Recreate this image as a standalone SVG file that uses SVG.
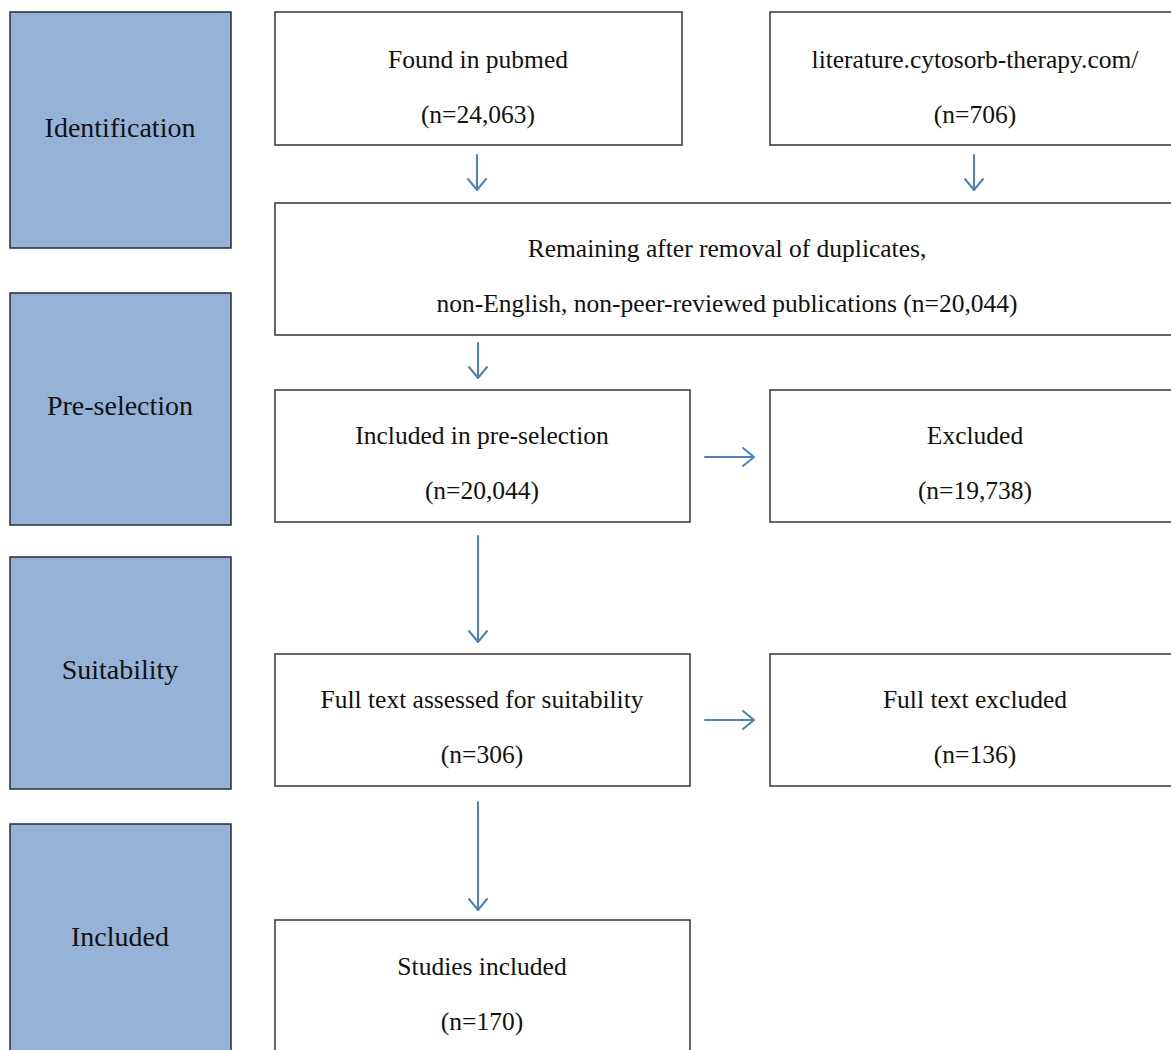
<svg xmlns="http://www.w3.org/2000/svg" width="1171" height="1050" viewBox="0 0 1171 1050">
<defs>
<style>
.stage{fill:#95b3d7;stroke:#2b2b2b;stroke-width:1.5}
.box{fill:#ffffff;stroke:#333333;stroke-width:1.5}
.t{font-family:"Liberation Serif","Times New Roman",serif;font-size:25.5px;fill:#111;text-anchor:middle}
.s{font-family:"Liberation Serif","Times New Roman",serif;font-size:28px;fill:#111;text-anchor:middle}
.c{stroke:#4f81bd;stroke-width:2;fill:none;stroke-linecap:round;stroke-linejoin:round}
</style>
</defs>
<rect width="1171" height="1050" fill="#ffffff"/>
<g id="stage-identification"><rect class="stage" x="10" y="12" width="221" height="236"/><text class="s" x="120" y="137">Identification</text></g>
<g id="stage-preselection"><rect class="stage" x="10" y="293" width="221" height="232"/><text class="s" x="120" y="415">Pre-selection</text></g>
<g id="stage-suitability"><rect class="stage" x="10" y="557" width="221" height="232"/><text class="s" x="120" y="679">Suitability</text></g>
<g id="stage-included"><rect class="stage" x="10" y="824" width="221" height="240"/><text class="s" x="120" y="946">Included</text></g>
<g id="node-pubmed"><rect class="box" x="275" y="12" width="407" height="133"/><text class="t" x="478" y="68">Found in pubmed</text><text class="t" x="478" y="123">(n=24,063)</text></g>
<g id="node-literature"><rect class="box" x="770" y="12" width="410" height="133"/><text class="t" x="975" y="68">literature.cytosorb-therapy.com/</text><text class="t" x="975" y="123">(n=706)</text></g>
<g id="node-remaining"><rect class="box" x="275" y="203" width="905" height="132"/><text class="t" x="727" y="257">Remaining after removal of duplicates,</text><text class="t" x="727" y="312">non-English, non-peer-reviewed publications (n=20,044)</text></g>
<g id="node-preselection"><rect class="box" x="275" y="390" width="415" height="132"/><text class="t" x="482" y="444">Included in pre-selection</text><text class="t" x="482" y="499">(n=20,044)</text></g>
<g id="node-excluded"><rect class="box" x="770" y="390" width="410" height="132"/><text class="t" x="975" y="444">Excluded</text><text class="t" x="975" y="499">(n=19,738)</text></g>
<g id="node-fulltext"><rect class="box" x="275" y="654" width="415" height="132"/><text class="t" x="482" y="708">Full text assessed for suitability</text><text class="t" x="482" y="763">(n=306)</text></g>
<g id="node-fulltext-excluded"><rect class="box" x="770" y="654" width="410" height="132"/><text class="t" x="975" y="708">Full text excluded</text><text class="t" x="975" y="763">(n=136)</text></g>
<g id="node-studies"><rect class="box" x="275" y="920" width="415" height="140"/><text class="t" x="482" y="975">Studies included</text><text class="t" x="482" y="1030">(n=170)</text></g>
<g id="connectors">
<path class="c" d="M477 155V189M468 179L477 190L486 179"/>
<path class="c" d="M974 155V189M965 179L974 190L983 179"/>
<path class="c" d="M478 343V377M469 367L478 378L487 367"/>
<path class="c" d="M705 457H753M743 448L754 457L743 466"/>
<path class="c" d="M478 536V641M469 631L478 642L487 631"/>
<path class="c" d="M705 720H753M743 711L754 720L743 729"/>
<path class="c" d="M478 802V909M469 899L478 910L487 899"/>
</g>
</svg>
